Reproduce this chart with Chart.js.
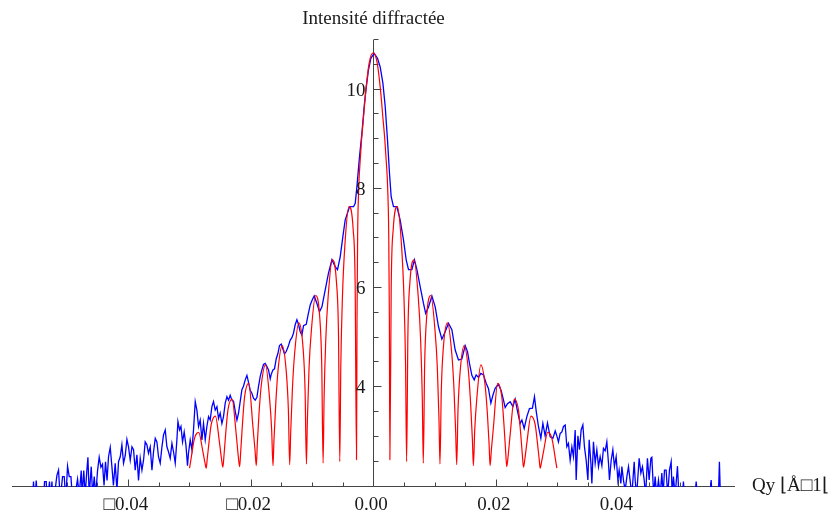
<!DOCTYPE html>
<html>
<head>
<meta charset="utf-8">
<script src="https://cdn.jsdelivr.net/npm/chart.js@4.4.1/dist/chart.umd.min.js"></script>
<style>
  html, body { margin: 0; padding: 0; background: #fff; }
  #wrap { width: 834px; height: 513px; }
</style>
</head>
<body>
<div id="wrap"><canvas id="plot" width="834" height="513"></canvas></div>
<script>
// Plot range
const qMin = -0.0589, qMax = 0.059;
const iMin = 1.97, iMax = 11.0;

// Tick labels (the minus sign renders as a box in the original)
const xTickValues = [-0.04, -0.02, 0, 0.02, 0.04];
const xTickLabels = ['□0.04', '□0.02', '0.00', '0.02', '0.04'];
const yTickValues = [4, 6, 8, 10];
const yTickLabels = ['4', '6', '8', '10'];
const yTitle = 'Intensité diffractée';
const xTitle = 'Qy ⌊Å□1⌊';

// Model (red): q in 1/Å, ln intensity
const redQ = [
  -0.02995,
  -0.02979, -0.02952, -0.02914, -0.02846, -0.02778, -0.02745, -0.02723,
  -0.02707, -0.02679, -0.02641, -0.02573, -0.02505, -0.02473, -0.02451,
  -0.02434, -0.02407, -0.02369, -0.02301, -0.02233, -0.02200, -0.02178,
  -0.02162, -0.02135, -0.02097, -0.02029, -0.01961, -0.01928, -0.01906,
  -0.01890, -0.01863, -0.01824, -0.01756, -0.01688, -0.01656, -0.01634,
  -0.01618, -0.01590, -0.01552, -0.01484, -0.01416, -0.01383, -0.01362,
  -0.01345, -0.01318, -0.01280, -0.01212, -0.01144, -0.01111, -0.01089,
  -0.01073, -0.01046, -0.01008, -0.00939, -0.00871, -0.00839, -0.00817,
  -0.00801, -0.00773, -0.00735, -0.00667, -0.00599, -0.00566, -0.00545,
  -0.00528, -0.00501, -0.00463, -0.00395, -0.00327, -0.00294, -0.00272,
  -0.00264, -0.00254, -0.00236, -0.00212, -0.00188, -0.00163, -0.00117, -0.00065,
  0,
  0.00065, 0.00117, 0.00163, 0.00188, 0.00212, 0.00236, 0.00254, 0.00264,
  0.00272, 0.00294, 0.00327, 0.00395, 0.00463, 0.00501, 0.00528,
  0.00545, 0.00566, 0.00599, 0.00667, 0.00735, 0.00773, 0.00801,
  0.00817, 0.00839, 0.00871, 0.00939, 0.01008, 0.01046, 0.01073,
  0.01089, 0.01111, 0.01144, 0.01212, 0.01280, 0.01318, 0.01345,
  0.01362, 0.01383, 0.01416, 0.01484, 0.01552, 0.01590, 0.01618,
  0.01634, 0.01656, 0.01688, 0.01756, 0.01824, 0.01863, 0.01890,
  0.01906, 0.01928, 0.01961, 0.02029, 0.02097, 0.02135, 0.02162,
  0.02178, 0.02200, 0.02233, 0.02301, 0.02369, 0.02407, 0.02434,
  0.02451, 0.02473, 0.02505, 0.02573, 0.02641, 0.02679, 0.02707,
  0.02723, 0.02745, 0.02778, 0.02846, 0.02914, 0.02952, 0.02979,
  0.02995
];
const redI = [
  2.35,
  2.47, 2.69, 2.95, 3.07, 2.69, 2.47, 2.35,
  2.53, 2.85, 3.23, 3.40, 2.85, 2.53, 2.37,
  2.59, 3.02, 3.52, 3.74, 3.02, 2.59, 2.38,
  2.65, 3.18, 3.79, 4.06, 3.18, 2.73, 2.40,
  2.83, 3.43, 4.03, 4.43, 3.73, 3.13, 2.40,
  2.92, 3.62, 4.32, 4.82, 4.27, 3.52, 2.42,
  3.08, 3.93, 4.68, 5.28, 4.78, 3.93, 2.43,
  3.33, 4.38, 5.13, 5.83, 5.38, 4.43, 2.45,
  3.75, 4.95, 5.80, 6.55, 6.10, 5.05, 2.48,
  4.42, 5.82, 6.82, 7.62, 7.17, 6.02, 2.52,
  5.30, 7.00, 8.00, 8.55, 9.00, 9.35, 10.00, 10.52,
  10.72,
  10.52, 10.00, 9.35, 9.00, 8.55, 8.00, 7.00, 5.30,
  2.52, 6.02, 7.17, 7.62, 6.82, 5.82, 4.42,
  2.48, 5.05, 6.10, 6.55, 5.80, 4.95, 3.75,
  2.45, 4.43, 5.38, 5.83, 5.13, 4.38, 3.33,
  2.43, 3.93, 4.78, 5.28, 4.68, 3.93, 3.08,
  2.42, 3.52, 4.27, 4.82, 4.32, 3.62, 2.92,
  2.40, 3.13, 3.73, 4.43, 4.03, 3.43, 2.83,
  2.40, 2.73, 3.18, 4.06, 3.79, 3.18, 2.65,
  2.38, 2.59, 3.02, 3.74, 3.52, 3.02, 2.59,
  2.37, 2.53, 2.85, 3.40, 3.23, 2.85, 2.53,
  2.35, 2.47, 2.69, 3.07, 2.95, 2.69, 2.47,
  2.35
];

// Measurement (blue): q in 1/Å, ln intensity (values under 1.97 fall below the axis)
const blueQ = [
  -0.05560, -0.05539, -0.05519, -0.05495, -0.05470, -0.05381, -0.05359, -0.05332, -0.05315, -0.05278,
  -0.05258, -0.05239, -0.05218, -0.05157, -0.05131, -0.05103, -0.05066, -0.05038, -0.05014, -0.04984,
  -0.04957, -0.04929, -0.04908, -0.04875, -0.04821, -0.04794, -0.04761, -0.04745, -0.04720, -0.04696,
  -0.04671, -0.04652, -0.04631, -0.04598, -0.04574, -0.04549, -0.04525, -0.04495, -0.04468, -0.04440,
  -0.04414, -0.04389, -0.04365, -0.04340, -0.04316, -0.04288, -0.04261, -0.04236, -0.04207, -0.04179,
  -0.04153, -0.04125, -0.04098, -0.04071, -0.04044, -0.04016, -0.03990, -0.03962, -0.03934, -0.03908,
  -0.03881, -0.03853, -0.03827, -0.03799, -0.03771, -0.03745, -0.03718, -0.03690, -0.03664, -0.03636,
  -0.03608, -0.03582, -0.03554, -0.03527, -0.03501, -0.03473, -0.03445, -0.03419, -0.03391, -0.03364,
  -0.03338, -0.03310, -0.03282, -0.03256, -0.03228, -0.03201, -0.03184, -0.03158, -0.03135, -0.03109,
  -0.03082, -0.03054, -0.03028, -0.03012, -0.02984, -0.02956, -0.02930, -0.02902, -0.02875, -0.02848,
  -0.02821, -0.02793, -0.02767, -0.02739, -0.02712, -0.02685, -0.02658, -0.02630, -0.02604, -0.02576,
  -0.02548, -0.02522, -0.02495, -0.02467, -0.02441, -0.02413, -0.02385, -0.02359, -0.02332, -0.02304,
  -0.02278, -0.02250, -0.02222, -0.02196, -0.02169, -0.02141, -0.02115, -0.02087, -0.02059, -0.02033,
  -0.02006, -0.01978, -0.01952, -0.01924, -0.01896, -0.01870, -0.01842, -0.01815, -0.01789, -0.01761,
  -0.01733, -0.01707, -0.01679, -0.01663, -0.01635, -0.01609, -0.01582, -0.01554, -0.01528, -0.01500,
  -0.01472, -0.01446, -0.01419, -0.01386, -0.01353, -0.01326, -0.01300, -0.01272, -0.01244, -0.01218,
  -0.01190, -0.01163, -0.01136, -0.01092, -0.01060, -0.01027, -0.00995, -0.00962, -0.00918, -0.00876,
  -0.00836, -0.00783, -0.00729, -0.00673, -0.00620, -0.00582, -0.00538, -0.00494, -0.00457, -0.00386,
  -0.00321, -0.00293, -0.00266, -0.00223, -0.00184, -0.00147, -0.00119, -0.00077, -0.00038, 0.00016,
  0.00070, 0.00114, 0.00158, 0.00196, 0.00233, 0.00266, 0.00293, 0.00331, 0.00386, 0.00440,
  0.00494, 0.00538, 0.00576, 0.00631, 0.00673, 0.00713, 0.00766, 0.00820, 0.00856, 0.00902,
  0.00957, 0.01011, 0.01065, 0.01120, 0.01174, 0.01228, 0.01283, 0.01337, 0.01391, 0.01446,
  0.01500, 0.01538, 0.01570, 0.01609, 0.01647, 0.01679, 0.01717, 0.01756, 0.01798, 0.01842,
  0.01880, 0.01919, 0.01952, 0.01989, 0.02043, 0.02087, 0.02125, 0.02152, 0.02190, 0.02234,
  0.02278, 0.02315, 0.02353, 0.02397, 0.02425, 0.02462, 0.02506, 0.02548, 0.02597, 0.02630,
  0.02658, 0.02695, 0.02734, 0.02767, 0.02804, 0.02842, 0.02886, 0.02930, 0.02968, 0.02995,
  0.03021, 0.03049, 0.03077, 0.03103, 0.03131, 0.03158, 0.03184, 0.03212, 0.03240, 0.03266,
  0.03294, 0.03310, 0.03338, 0.03364, 0.03391, 0.03419, 0.03445, 0.03473, 0.03501, 0.03522,
  0.03550, 0.03566, 0.03592, 0.03620, 0.03647, 0.03674, 0.03701, 0.03729, 0.03755, 0.03783,
  0.03810, 0.03837, 0.03853, 0.03881, 0.03908, 0.03934, 0.03962, 0.03990, 0.04011, 0.04039,
  0.04055, 0.04081, 0.04109, 0.04137, 0.04163, 0.04190, 0.04218, 0.04256, 0.04272, 0.04296,
  0.04337, 0.04365, 0.04391, 0.04419, 0.04443, 0.04472, 0.04500, 0.04528, 0.04544, 0.04574,
  0.04598, 0.04622, 0.04652, 0.04680, 0.04707, 0.04728, 0.04750, 0.04777, 0.04802, 0.04831,
  0.04859, 0.04875, 0.04896, 0.04924, 0.04962, 0.04989, 0.05030, 0.05059, 0.05087, 0.05234,
  0.05267, 0.05299, 0.05487, 0.05511, 0.05535, 0.05625, 0.05646, 0.05666
];
const blueI = [
  1.60, 2.08, 1.60, 2.10, 1.60, 1.60, 2.08, 2.08, 1.60, 2.08,
  1.60, 2.08, 1.60, 2.21, 2.31, 1.70, 2.18, 2.18, 1.70, 2.39,
  2.18, 2.18, 1.80, 1.70, 2.13, 1.80, 2.30, 1.80, 2.30, 1.80,
  2.28, 2.57, 1.80, 2.38, 1.80, 2.18, 1.80, 2.30, 2.57, 2.37,
  2.43, 2.00, 2.48, 2.10, 2.58, 2.77, 2.38, 2.00, 2.45, 1.90,
  2.48, 2.58, 2.82, 2.45, 2.60, 2.93, 2.78, 2.51, 2.78, 2.72,
  2.31, 2.62, 2.10, 2.55, 2.31, 2.51, 2.88, 2.82, 2.65, 2.78,
  2.31, 2.68, 2.95, 2.88, 2.58, 2.45, 2.78, 3.02, 3.12, 2.78,
  2.68, 2.55, 2.85, 2.68, 2.45, 2.92, 3.29, 3.12, 3.19, 2.88,
  3.08, 2.82, 2.40, 2.65, 2.92, 2.72, 3.12, 3.69, 3.52, 3.19,
  3.32, 2.92, 3.25, 2.92, 3.19, 3.39, 3.32, 3.59, 3.69, 3.52,
  3.59, 3.35, 3.46, 3.25, 3.39, 3.66, 3.79, 3.72, 3.82, 3.72,
  3.70, 3.50, 3.32, 3.46, 3.69, 3.93, 4.00, 4.13, 4.22, 4.08,
  3.92, 3.86, 3.76, 3.72, 3.78, 4.00, 4.20, 4.33, 4.44, 4.46,
  4.40, 4.33, 4.15, 4.24, 4.33, 4.35, 4.55, 4.66, 4.82, 4.85,
  4.75, 4.65, 4.70, 4.80, 4.93, 4.98, 5.07, 5.24, 5.34, 5.25,
  5.10, 5.03, 5.22, 5.25, 5.45, 5.64, 5.74, 5.82, 5.67, 5.50,
  5.60, 5.94, 6.28, 6.55, 6.41, 6.35, 6.61, 7.02, 7.35, 7.62,
  7.62, 7.69, 8.02, 8.63, 9.10, 9.64, 9.97, 10.38, 10.61, 10.71,
  10.61, 10.44, 10.11, 9.64, 8.97, 8.29, 7.82, 7.62, 7.62, 7.35,
  6.95, 6.55, 6.35, 6.35, 6.55, 6.35, 6.01, 5.67, 5.47, 5.60,
  5.82, 5.60, 5.20, 4.95, 5.10, 5.27, 5.14, 4.73, 4.53, 4.55,
  4.82, 4.70, 4.46, 4.22, 4.13, 4.23, 4.18, 4.26, 4.23, 4.06,
  3.95, 3.66, 3.82, 3.96, 4.04, 3.91, 3.72, 3.57, 3.65, 3.69,
  3.59, 3.74, 3.50, 3.25, 3.32, 3.15, 3.39, 3.55, 3.56, 3.79,
  3.50, 3.19, 2.95, 3.25, 3.00, 3.26, 2.98, 2.95, 3.10, 3.00,
  2.88, 3.05, 3.08, 3.19, 3.22, 2.78, 2.85, 2.51, 2.78, 2.58,
  3.12, 2.11, 3.00, 2.72, 3.12, 3.22, 2.78, 2.51, 2.11, 2.92,
  2.45, 2.04, 2.88, 2.45, 2.72, 2.38, 2.58, 2.40, 2.75, 2.70,
  2.88, 2.45, 2.11, 2.51, 2.72, 2.38, 2.58, 2.11, 2.31, 2.04,
  2.38, 2.11, 1.90, 2.18, 2.38, 2.10, 1.80, 2.48, 2.11, 1.80,
  2.55, 2.25, 2.38, 2.11, 1.80, 2.55, 2.11, 2.55, 2.57, 1.80,
  2.18, 1.80, 2.11, 1.80, 2.25, 1.80, 2.31, 2.31, 1.80, 2.31,
  2.48, 1.80, 2.18, 1.80, 2.39, 1.70, 1.60, 2.08, 1.60, 1.60,
  2.08, 1.60, 1.60, 2.11, 1.60, 1.60, 2.48, 1.60
];

const FONT = '"Liberation Serif", "Times New Roman", serif';
const INK = '#1a1a1a';

// Mathematica-style axes: crossing at q = 0, ticks pointing inwards
const mmaAxes = {
  id: 'mmaAxes',
  beforeDatasetsDraw(chart) {
    const { ctx, chartArea: a, scales: { x, y } } = chart;
    const x0 = Math.round(x.getPixelForValue(0)) + 0.5;
    const yb = Math.round(y.getPixelForValue(iMin)) - 0.5;
    ctx.save();
    ctx.strokeStyle = '#444';
    ctx.lineWidth = 1;
    ctx.beginPath();
    ctx.moveTo(a.left, yb);
    ctx.lineTo(a.right, yb);
    ctx.moveTo(x0, yb);
    ctx.lineTo(x0, a.top + 1);
    for (let k = -11; k <= 11; k++) {
      const px = Math.round(x.getPixelForValue(k * 0.005)) + 0.5;
      const len = k % 4 === 0 ? 7 : 4;
      ctx.moveTo(px, yb);
      ctx.lineTo(px, yb - len);
    }
    for (let k = 5; k <= 22; k++) {
      const py = Math.round(y.getPixelForValue(k / 2)) + 0.5;
      const len = yTickValues.includes(k / 2) ? 8 : 5;
      ctx.moveTo(x0, py);
      ctx.lineTo(x0 + len, py);
    }
    ctx.stroke();
    ctx.restore();
  },
  afterDraw(chart) {
    const { ctx, scales: { x, y } } = chart;
    const x0 = Math.round(x.getPixelForValue(0)) + 0.5;
    ctx.save();
    ctx.fillStyle = INK;
    ctx.font = '19px ' + FONT;
    ctx.textAlign = 'right';
    ctx.textBaseline = 'middle';
    yTickValues.forEach((v, i) => {
      ctx.fillText(yTickLabels[i], x0 - 8, y.getPixelForValue(v) + 2);
    });
    ctx.textAlign = 'center';
    ctx.textBaseline = 'alphabetic';
    xTickValues.forEach((v, i) => {
      ctx.fillText(xTickLabels[i], x.getPixelForValue(v) - 2, 510);
    });
    ctx.fillText(yTitle, x0, 24);
    ctx.textAlign = 'left';
    ctx.fillText(xTitle, 752, 491);
    ctx.restore();
  }
};

new Chart(document.getElementById('plot'), {
  type: 'line',
  data: {
    datasets: [
      {
        label: 'Modèle',
        data: redQ.map((q, i) => ({ x: q, y: redI[i] })),
        borderColor: '#ff0000',
        borderWidth: 1.2,
        pointRadius: 0,
        cubicInterpolationMode: 'monotone',
        clip: 0,
        order: 0
      },
      {
        label: 'Mesure',
        data: blueQ.map((q, i) => ({ x: q, y: blueI[i] })),
        borderColor: '#0000ff',
        borderWidth: 1.3,
        pointRadius: 0,
        tension: 0,
        clip: 0,
        order: 1
      }
    ]
  },
  options: {
    responsive: false,
    animation: false,
    events: [],
    layout: { padding: { left: 12, right: 99, top: 39, bottom: 26 } },
    plugins: { legend: { display: false }, tooltip: { enabled: false } },
    scales: {
      x: { type: 'linear', min: qMin, max: qMax, display: false },
      y: { type: 'linear', min: iMin, max: iMax, display: false }
    }
  },
  plugins: [mmaAxes]
});
</script>
</body>
</html>
